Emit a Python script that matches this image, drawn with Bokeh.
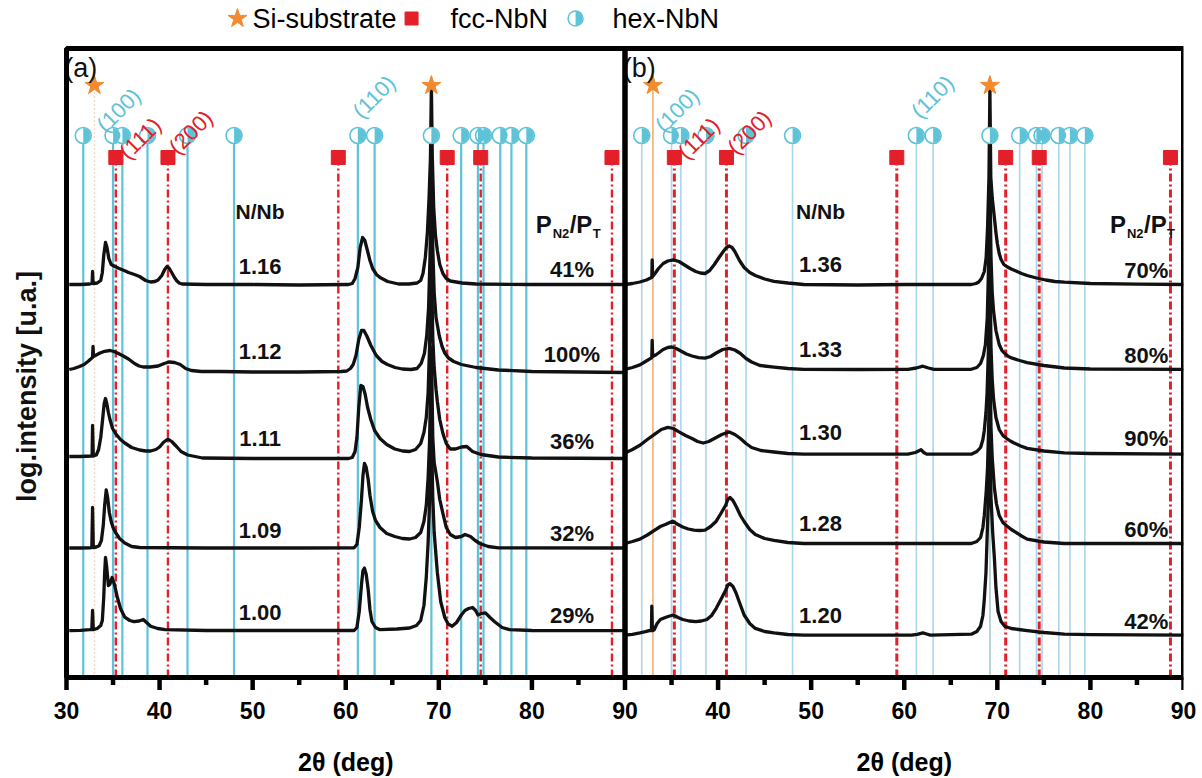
import math
from bokeh.plotting import figure
from bokeh.layouts import column
from bokeh.models import ColumnDataSource, FixedTicker, Range1d
from bokeh.transform import dodge
from bokeh.core.properties import value
from bokeh.embed import file_html
from bokeh.resources import INLINE

# ---------------------------------------------------------------- data
# Panel (a): diffractograms, 2theta (deg) and stacked log intensity (a.u.)
a1_tt = [30.3, 31.5, 32.49, 32.75, 32.80, 32.86, 33.3, 33.68, 33.85, 34.0, 34.19, 34.35, 34.55, 34.8, 35.2,
         35.66, 36.2, 36.66, 37.3, 37.85, 38.5, 39.04, 39.5, 39.84, 40.24, 40.55, 40.8, 41.05, 41.3, 41.6,
         41.82, 42.1, 42.42, 45.0, 50.0, 55.0, 60.3, 60.7, 61.0, 61.3, 61.55, 61.81, 62.05, 62.3, 62.6,
         62.89, 63.3, 63.68, 64.5, 65.67, 66.8, 67.66, 68.05, 68.3, 68.55, 68.77, 68.95, 69.1, 69.2, 69.3,
         69.45, 69.64, 69.84, 70.1, 70.44, 70.8, 71.23, 72.5, 74.0, 80.0, 90.0]
a1_i = [3.93, 3.93, 3.935, 3.94, 4.06, 3.94, 3.945, 3.97, 4.05, 4.22, 4.35, 4.30, 4.19, 4.13, 4.11,
        4.09, 4.07, 4.05, 4.03, 4.01, 3.97, 3.955, 3.96, 3.975, 4.02, 4.08, 4.11, 4.09, 4.05, 4.0,
        3.97, 3.945, 3.935, 3.93, 3.93, 3.925, 3.93, 3.94, 3.99, 4.10, 4.30, 4.40, 4.37, 4.28, 4.17,
        4.09, 4.03, 4.0, 3.96, 3.935, 3.935, 3.945, 3.97, 4.04, 4.2, 4.45, 4.8, 5.2, 5.92, 5.2,
        4.7, 4.42, 4.27, 4.13, 4.04, 3.99, 3.965, 3.945, 3.935, 3.93, 3.93]

a2_tt = [30.3, 30.8, 31.4, 31.89, 32.3, 32.6, 32.80, 32.85, 32.90, 33.2, 33.6, 34.1, 34.67, 35.1, 35.47,
         36.0, 36.66, 37.3, 37.8, 38.25, 39.0, 39.84, 40.5, 41.03, 41.6, 42.22, 42.8, 43.41, 44.5, 46.59,
         50.0, 55.0, 59.5, 60.11, 60.5, 60.8, 61.1, 61.4, 61.69, 61.95, 62.29, 62.7, 63.28, 63.9, 64.48,
         65.3, 66.07, 67.0, 67.66, 68.1, 68.45, 68.7, 68.9, 69.05, 69.2, 69.35, 69.5, 69.7, 70.04, 70.35,
         70.64, 71.03, 71.6, 72.42, 74.0, 76.4, 80.0, 90.0]
a2_i = [3.08, 3.09, 3.11, 3.13, 3.16, 3.185, 3.20, 3.31, 3.21, 3.225, 3.245, 3.262, 3.27, 3.26, 3.245,
        3.22, 3.185, 3.14, 3.115, 3.105, 3.105, 3.115, 3.14, 3.155, 3.15, 3.13, 3.09, 3.07, 3.06, 3.06,
        3.055, 3.055, 3.06, 3.065, 3.09, 3.13, 3.22, 3.38, 3.47, 3.47, 3.41, 3.32, 3.22, 3.16, 3.13,
        3.10, 3.085, 3.08, 3.09, 3.14, 3.24, 3.42, 3.70, 4.2, 5.06, 4.3, 3.85, 3.6, 3.42, 3.31,
        3.245, 3.195, 3.16, 3.13, 3.10, 3.075, 3.06, 3.05]

a3_tt = [30.3, 31.5, 32.68, 32.75, 32.80, 32.88, 33.2, 33.45, 33.68, 33.9, 34.05, 34.19, 34.35, 34.5, 34.67,
         34.95, 35.27, 35.8, 36.26, 37.0, 37.85, 38.5, 39.04, 39.6, 40.0, 40.4, 40.9, 41.3, 41.82, 42.3,
         43.02, 44.61, 50.0, 55.0, 60.3, 60.7, 61.0, 61.2, 61.4, 61.62, 61.85, 62.09, 62.35, 62.69, 63.1,
         63.68, 64.4, 65.27, 66.1, 66.86, 67.5, 68.05, 68.4, 68.65, 68.85, 69.0, 69.2, 69.35, 69.5, 69.7,
         69.84, 70.1, 70.44, 70.8, 71.23, 71.8, 72.42, 73.0, 73.62, 74.5, 76.4, 80.0, 90.0]
a3_i = [2.21, 2.21, 2.215, 2.215, 2.52, 2.215, 2.225, 2.28, 2.40, 2.60, 2.74, 2.79, 2.73, 2.65, 2.58,
        2.49, 2.44, 2.38, 2.345, 2.30, 2.275, 2.265, 2.265, 2.28, 2.305, 2.35, 2.385, 2.36, 2.31, 2.26,
        2.225, 2.195, 2.19, 2.19, 2.19, 2.20, 2.26, 2.40, 2.70, 2.92, 2.91, 2.83, 2.70, 2.58, 2.47,
        2.39, 2.33, 2.285, 2.265, 2.26, 2.28, 2.34, 2.45, 2.60, 2.85, 3.3, 4.19, 3.4, 3.1, 2.88,
        2.76, 2.58, 2.44, 2.34, 2.285, 2.285, 2.305, 2.31, 2.26, 2.23, 2.205, 2.195, 2.19]

a4_tt = [30.3, 31.5, 32.49, 32.72, 32.80, 32.88, 33.2, 33.5, 33.75, 33.95, 34.1, 34.27, 34.42, 34.6, 34.8,
         35.0, 35.27, 35.7, 36.26, 37.0, 37.85, 45.0, 55.0, 60.9, 61.2, 61.45, 61.69, 61.85, 62.01, 62.2,
         62.41, 62.6, 62.89, 63.2, 63.68, 64.4, 65.27, 66.1, 66.86, 67.5, 68.05, 68.4, 68.65, 68.85, 69.0,
         69.2, 69.35, 69.5, 69.84, 70.1, 70.44, 70.8, 71.23, 71.8, 72.42, 72.82, 73.4, 73.9, 74.41, 75.3,
         76.4, 90.0]
a4_i = [1.295, 1.295, 1.297, 1.30, 1.70, 1.30, 1.305, 1.317, 1.37, 1.52, 1.72, 1.875, 1.80, 1.65, 1.56,
        1.50, 1.45, 1.39, 1.345, 1.31, 1.30, 1.295, 1.295, 1.297, 1.33, 1.50, 1.78, 2.02, 2.14, 2.10,
        1.98, 1.82, 1.66, 1.57, 1.50, 1.44, 1.41, 1.39, 1.385, 1.40, 1.45, 1.56, 1.72, 2.0, 2.35,
        3.30, 2.4, 2.15, 1.96, 1.78, 1.64, 1.50, 1.43, 1.40, 1.41, 1.43, 1.41, 1.37, 1.34, 1.31,
        1.297, 1.295]

a5_tt = [30.3, 31.5, 32.49, 32.72, 32.80, 32.88, 33.3, 33.68, 33.85, 34.0, 34.1, 34.19, 34.3, 34.5, 34.65,
         34.9, 35.15, 35.47, 35.8, 36.26, 36.8, 37.25, 37.8, 38.25, 38.6, 39.04, 39.8, 40.6, 45.0, 55.0,
         60.9, 61.2, 61.45, 61.69, 61.85, 62.01, 62.2, 62.41, 62.6, 62.81, 63.2, 63.68, 65.5, 66.86, 67.6,
         68.05, 68.4, 68.65, 68.85, 69.0, 69.2, 69.35, 69.5, 69.84, 70.2, 70.64, 71.0, 71.43, 71.9, 72.42,
         72.8, 73.2, 73.62, 73.95, 74.21, 74.6, 75.01, 75.5, 76.0, 76.8, 77.59, 80.0, 90.0]
a5_i = [0.469, 0.472, 0.478, 0.48, 0.67, 0.478, 0.49, 0.52, 0.57, 0.80, 1.05, 1.20, 1.12, 0.92, 0.93,
        1.00, 0.93, 0.80, 0.69, 0.603, 0.57, 0.558, 0.565, 0.58, 0.55, 0.513, 0.49, 0.478, 0.47, 0.47,
        0.47, 0.50, 0.66, 0.93, 1.07, 1.094, 1.03, 0.88, 0.68, 0.56, 0.50, 0.478, 0.485, 0.495, 0.52,
        0.57, 0.72, 1.0, 1.35, 1.75, 2.47, 1.8, 1.45, 1.05, 0.76, 0.60, 0.535, 0.513, 0.55, 0.625,
        0.67, 0.69, 0.70, 0.67, 0.625, 0.64, 0.647, 0.60, 0.558, 0.50, 0.478, 0.47, 0.469]

# Panel (b)
b1_tt = [30.0, 30.8, 31.6, 32.3, 32.8, 32.88, 32.92, 32.97, 33.3, 33.6, 34.1, 34.6, 35.2, 35.8, 36.4,
         37.0, 37.6, 38.1, 38.6, 39.1, 39.6, 40.1, 40.6, 40.9, 41.2, 41.5, 41.8, 42.3, 42.8, 43.4,
         44.0, 45.0, 46.0, 47.5, 49.2, 55.0, 60.0, 67.2, 67.7, 68.0, 68.3, 68.6, 68.8, 68.95, 69.1,
         69.2, 69.3, 69.45, 69.68, 69.85, 70.0, 70.2, 70.4, 70.7, 71.0, 71.5, 72.0, 72.6, 73.2, 74.2,
         75.2, 76.2, 77.2, 80.0, 85.0, 90.0]
b1_i = [3.93, 3.94, 3.955, 3.975, 3.997, 4.0, 4.176, 4.01, 4.05, 4.09, 4.14, 4.165, 4.176, 4.16, 4.125,
        4.09, 4.06, 4.045, 4.04, 4.07, 4.13, 4.2, 4.265, 4.30, 4.315, 4.30, 4.26, 4.17, 4.10, 4.05,
        4.02, 3.985, 3.962, 3.945, 3.93, 3.925, 3.93, 3.93, 3.94, 3.955, 3.99, 4.06, 4.2, 4.5, 5.0,
        5.88, 5.0, 4.8, 4.6, 4.45, 4.34, 4.24, 4.18, 4.13, 4.11, 4.085, 4.065, 4.04, 4.02, 3.995,
        3.975, 3.96, 3.953, 3.94, 3.933, 3.93]

b2_tt = [30.0, 30.8, 31.6, 32.2, 32.8, 32.88, 32.92, 32.97, 33.3, 33.6, 34.1, 34.6, 35.0, 35.5, 36.0,
         36.6, 37.2, 37.9, 38.6, 39.2, 39.8, 40.5, 41.2, 41.8, 42.4, 43.0, 43.6, 44.5, 46.0, 47.5,
         49.2, 55.0, 60.4, 61.3, 62.0, 62.6, 63.2, 67.2, 67.8, 68.2, 68.5, 68.72, 68.92, 69.08, 69.2,
         69.32, 69.45, 69.6, 69.85, 70.2, 70.5, 70.8, 71.2, 71.6, 72.4, 73.2, 75.0, 77.2, 80.0, 90.0]
b2_i = [3.082, 3.10, 3.126, 3.16, 3.193, 3.20, 3.372, 3.21, 3.225, 3.245, 3.28, 3.30, 3.305, 3.29, 3.265,
        3.235, 3.215, 3.198, 3.193, 3.21, 3.245, 3.28, 3.292, 3.275, 3.24, 3.19, 3.155, 3.12, 3.104, 3.09,
        3.082, 3.08, 3.082, 3.095, 3.113, 3.095, 3.082, 3.082, 3.10, 3.14, 3.22, 3.33, 3.60, 4.2, 5.03,
        4.2, 3.85, 3.66, 3.47, 3.33, 3.27, 3.24, 3.21, 3.193, 3.17, 3.149, 3.12, 3.095, 3.085, 3.082]

b3_tt = [30.0, 30.8, 31.6, 32.4, 33.2, 33.9, 34.6, 35.2, 35.8, 36.5, 37.2, 37.8, 38.4, 39.0, 39.6,
         40.4, 41.2, 41.8, 42.4, 43.0, 43.6, 44.6, 46.0, 47.5, 49.2, 55.0, 60.4, 61.2, 61.8, 62.1,
         62.4, 67.2, 67.8, 68.2, 68.45, 68.6, 68.78, 68.9, 69.05, 69.2, 69.32, 69.45, 69.6, 69.85, 70.2,
         70.6, 71.0, 71.4, 71.8, 72.5, 73.2, 75.0, 77.2, 80.0, 90.0]
b3_i = [2.246, 2.28, 2.322, 2.38, 2.434, 2.48, 2.501, 2.49, 2.456, 2.42, 2.39, 2.36, 2.345, 2.36, 2.39,
        2.43, 2.456, 2.43, 2.39, 2.34, 2.30, 2.27, 2.255, 2.24, 2.233, 2.233, 2.233, 2.25, 2.278, 2.25,
        2.233, 2.233, 2.26, 2.30, 2.38, 2.47, 2.65, 2.85, 3.3, 4.18, 3.3, 2.98, 2.78, 2.6, 2.48,
        2.42, 2.39, 2.365, 2.345, 2.315, 2.291, 2.265, 2.246, 2.24, 2.233]

b4_tt = [30.0, 30.8, 31.6, 32.4, 33.2, 33.8, 34.4, 34.8, 35.12, 35.6, 36.2, 36.8, 37.4, 38.0, 38.6,
         39.2, 39.8, 40.3, 40.8, 41.05, 41.28, 41.6, 42.0, 42.4, 42.8, 43.4, 44.0, 45.0, 46.0, 47.5,
         49.2, 60.0, 67.2, 67.8, 68.2, 68.45, 68.6, 68.8, 68.95, 69.08, 69.2, 69.32, 69.45, 69.68, 69.9,
         70.2, 70.6, 71.0, 71.5, 72.0, 72.6, 73.2, 75.0, 77.2, 90.0]
b4_i = [1.34, 1.36, 1.384, 1.425, 1.474, 1.51, 1.532, 1.55, 1.563, 1.535, 1.505, 1.485, 1.474, 1.47, 1.474,
        1.51, 1.563, 1.64, 1.72, 1.78, 1.80, 1.77, 1.70, 1.62, 1.56, 1.48, 1.43, 1.39, 1.371, 1.35,
        1.34, 1.34, 1.34, 1.36, 1.40, 1.50, 1.62, 1.85, 2.1, 2.55, 3.29, 2.5, 2.2, 1.9, 1.74,
        1.62, 1.55, 1.518, 1.48, 1.452, 1.415, 1.384, 1.355, 1.34, 1.34]

b5_tt = [30.0, 30.8, 31.6, 32.2, 32.6, 32.84, 32.88, 32.94, 33.12, 33.45, 33.8, 34.4, 34.8, 35.2, 35.7,
         36.2, 36.9, 37.6, 38.2, 38.8, 39.3, 39.8, 40.3, 40.8, 41.05, 41.28, 41.6, 41.92, 42.3, 42.8,
         43.4, 44.0, 45.0, 46.0, 47.5, 49.2, 55.0, 60.8, 61.4, 62.0, 62.4, 62.8, 67.2, 67.8, 68.2,
         68.45, 68.6, 68.78, 68.92, 69.08, 69.2, 69.32, 69.5, 69.68, 69.85, 70.08, 70.4, 70.8, 71.5, 72.3,
         73.2, 75.0, 77.2, 80.0, 90.0]
b5_i = [0.424, 0.432, 0.446, 0.458, 0.469, 0.47, 0.714, 0.469, 0.475, 0.54, 0.58, 0.603, 0.615, 0.625, 0.60,
        0.58, 0.565, 0.558, 0.565, 0.58, 0.62, 0.692, 0.78, 0.87, 0.925, 0.938, 0.91, 0.848, 0.75, 0.625,
        0.54, 0.491, 0.46, 0.446, 0.43, 0.424, 0.424, 0.424, 0.432, 0.446, 0.435, 0.424, 0.433, 0.46, 0.513,
        0.62, 0.78, 1.05, 1.452, 1.9, 2.37, 1.8, 1.45, 1.2, 0.9, 0.66, 0.56, 0.513, 0.49, 0.48,
        0.469, 0.45, 0.433, 0.428, 0.424]

n_nb_a = ["1.16", "1.12", "1.11", "1.09", "1.00"]
pn2_a = ["41%", "100%", "36%", "32%", "29%"]
n_nb_b = ["1.36", "1.33", "1.30", "1.28", "1.20"]
pn2_b = ["70%", "80%", "90%", "60%", "42%"]

# Reference reflection positions (2theta, deg)
si_substrate = [33.0, 69.2]
fcc_nbn = [35.3, 40.9, 59.2, 70.9, 74.5, 88.6]
hex_nbn = [31.8, 35.0, 36.0, 38.7, 43.0, 48.0, 61.3, 63.1, 69.2, 72.4, 74.2, 74.8, 76.6, 77.8, 79.4]
hex_hkl = ["(100)", "(110)"]
fcc_hkl = ["(111)", "(200)"]

x_ticks = [30, 40, 50, 60, 70, 80, 90]
legend_names = ["Si-substrate", "fcc-NbN", "hex-NbN"]

# ---------------------------------------------------------------- style
FONT = "Liberation Sans"
BLACK = "#111111"
RED = "#e3202a"
CYAN = "#5fc3d8"
CYAN_LIGHT = "#a9d7ea"
ORANGE = "#f28a2e"
STAR_Y, HEX_Y, FCC_Y = 5.92, 5.42, 5.20
SHIFT_B = 60          # panel (b) sits 60 degrees to the right on the shared x range
X_LEFT = 22.91        # room left of the panels for the intensity title
Y_TOP = 6.77          # room above the panels for the key
Y_BOTTOM = -0.15      # room under the panels for the tick marks
PANEL_TOP = 6.29


def xfield(shift):
    return "x" if shift == 0 else dodge("x", shift)


def put_text(p, shift, xs, ys, texts, size, color=BLACK, style="bold", align="center",
             baseline="middle", angle=0.0, x_offset=0, y_offset=0):
    src = ColumnDataSource(dict(x=xs, y=ys, t=texts))
    p.text(x=xfield(shift), y="y", text="t", source=src, text_font=value(FONT),
           text_font_style=style, text_font_size=size, text_color=color, text_align=align,
           text_baseline=baseline, angle=angle, x_offset=x_offset, y_offset=y_offset)


def hex_marker(p, X, src, size, width):
    p.scatter(x=X, y="y", source=src, marker="circle", size=size, fill_color="white",
              line_color=CYAN, line_width=width)
    p.wedge(x=X, y="y", source=src, radius=size / 2 - 0.6, radius_units="screen",
            start_angle=-math.pi / 2, end_angle=math.pi / 2, fill_color=CYAN, line_color=None)


def draw_panel(p, shift, curves, n_nb, pn2, cyan_line, cyan_w, red_w, si_style, val_x, val_dy,
               pct_x, pct_dy, tag):
    X = xfield(shift)

    # Si substrate guide lines
    if si_style == "dotted":
        si_src = ColumnDataSource(dict(x=si_substrate, top=[STAR_Y] * 2, c=["#f3b98a", "#f3b98a"]))
        p.segment(x0=X, y0=0, x1=X, y1="top", source=si_src, line_color="c",
                  line_width=1.5, line_dash="1 3")
    else:
        si_src = ColumnDataSource(dict(x=si_substrate, top=[STAR_Y] * 2, c=["#f4a461", "#c8b46a"]))
        p.segment(x0=X, y0=0, x1=X, y1="top", source=si_src, line_color="c", line_width=1.4)

    # hexagonal NbN reference lines
    hex_src = ColumnDataSource(dict(x=hex_nbn, top=[HEX_Y] * len(hex_nbn)))
    p.segment(x0=X, y0=0, x1=X, y1="top", source=hex_src, line_color=cyan_line, line_width=cyan_w)

    # fcc NbN reference lines
    fcc_src = ColumnDataSource(dict(x=fcc_nbn, top=[FCC_Y] * len(fcc_nbn)))
    p.segment(x0=X, y0=0, x1=X, y1="top", source=fcc_src, line_color=RED, line_width=red_w,
              line_dash="8 3 2 3")

    # diffractograms
    for tt, inten in curves:
        src = ColumnDataSource(dict(x=tt, y=inten))
        p.line(x=X, y="y", source=src, line_color=BLACK, line_width=3.3, line_join="round")

    # markers
    p.scatter(x=X, y="y", source=ColumnDataSource(dict(x=fcc_nbn, y=[FCC_Y] * len(fcc_nbn))),
              marker="square", size=14, fill_color=RED, line_color=RED)
    hex_marker(p, X, ColumnDataSource(dict(x=hex_nbn, y=[HEX_Y] * len(hex_nbn))), 16, 1.6)
    p.scatter(x=X, y="y", source=ColumnDataSource(dict(x=si_substrate, y=[STAR_Y] * 2)),
              marker="star", size=20, fill_color=ORANGE, line_color=ORANGE)

    # Miller indices
    put_text(p, shift, [hex_nbn[1] - 1.35, hex_nbn[6] - 0.15], [5.49, 5.63], hex_hkl, "22px",
             color=CYAN, style="normal", align="left", angle=math.pi / 4)
    put_text(p, shift, [fcc_nbn[0] + 0.8, fcc_nbn[1] + 0.5], [5.22, 5.27], fcc_hkl, "22px",
             color=RED, style="normal", align="left", angle=math.pi / 4)

    # panel tag
    put_text(p, shift, [29.75], [6.25], [tag], "27px", style="normal", align="left", baseline="top")

    # sample labels
    base = [c[1][0] for c in curves]
    put_text(p, shift, [val_x] * len(base), [b + val_dy for b in base], n_nb, "22px")
    put_text(p, shift, [pct_x] * len(base), [b + pct_dy for b in base], pn2, "22px")
    put_text(p, shift, [val_x], [4.66], ["N/Nb"], "21px")
    # P_N2 / P_T heading built from pieces with subscripts
    hx = pct_x - 3.9
    put_text(p, shift, [hx], [4.53], ["P"], "24px", align="left")
    put_text(p, shift, [hx], [4.53], ["N2"], "13px", align="left", x_offset=17, y_offset=9)
    put_text(p, shift, [hx], [4.53], ["/P"], "24px", align="left", x_offset=34)
    put_text(p, shift, [hx], [4.53], ["T"], "13px", align="left", x_offset=57, y_offset=9)


# ---------------------------------------------------------------- main figure
p = figure(width=1202, height=735, x_range=Range1d(X_LEFT, 150), y_range=Range1d(Y_BOTTOM, Y_TOP),
           output_backend="svg", toolbar_location=None, y_axis_type=None, title=None,
           min_border_left=0, min_border_right=19, min_border_top=0, min_border_bottom=43)
p.grid.visible = False
p.outline_line_color = None
p.background_fill_color = "white"

curves_a = [(a1_tt, a1_i), (a2_tt, a2_i), (a3_tt, a3_i), (a4_tt, a4_i), (a5_tt, a5_i)]
curves_b = [(b1_tt, b1_i), (b2_tt, b2_i), (b3_tt, b3_i), (b4_tt, b4_i), (b5_tt, b5_i)]

draw_panel(p, 0, curves_a, n_nb_a, pn2_a, CYAN, 2.2, 2.4, "dotted", 50.8, 0.18, 84.3, 0.15, "(a)")
draw_panel(p, SHIFT_B, curves_b, n_nb_b, pn2_b, CYAN_LIGHT, 1.6, 3.0, "solid", 51.0, 0.2, 86.0, 0.14, "(b)")

# panel frames, spanning each panel's 2theta range
frame_src = ColumnDataSource(dict(left=[x_ticks[0], x_ticks[-1]],
                                  right=[x_ticks[-1], x_ticks[-1] + SHIFT_B]))
p.quad(left="left", right="right", bottom=0, top=PANEL_TOP, source=frame_src,
       fill_color=None, line_color="black", line_width=5)

# 2theta axis: labels from the axis, tick marks hanging under the panel frame
all_ticks = x_ticks + [t + SHIFT_B for t in x_ticks[1:]]
minor_ticks = [t + 5 for t in all_ticks[:-1]]
tick_src = ColumnDataSource(dict(x=all_ticks + minor_ticks,
                                 y1=[-0.125] * len(all_ticks) + [-0.075] * len(minor_ticks)))
p.segment(x0="x", y0=0, x1="x", y1="y1", source=tick_src, line_color="#000000", line_width=4.5)

ax = p.xaxis[0]
ax.ticker = FixedTicker(ticks=all_ticks)
ax.major_label_overrides = {t: str(t if t <= 90 else t - SHIFT_B) for t in all_ticks}
ax.axis_line_color = None
ax.major_tick_line_color = None
ax.minor_tick_line_color = None
ax.major_tick_in = 0
ax.major_tick_out = 0
ax.minor_tick_in = 0
ax.minor_tick_out = 0
ax.major_label_standoff = 9
ax.major_label_text_font = FONT
ax.major_label_text_font_style = "bold"
ax.major_label_text_font_size = "23px"
ax.major_label_text_color = "black"

# intensity title, left of panel (a)
p.text(x=[X_LEFT + 2.9], y=[2.91], text=["log.intensity [u.a.]"], angle=math.pi / 2,
       text_font=value(FONT), text_font_style="bold", text_font_size="27px",
       text_align="center", text_baseline="middle", text_color=BLACK)

# key above the panels
key_y = 6.59
p.scatter(x=[48.37], y=[key_y], marker="star", size=20, fill_color=ORANGE, line_color=ORANGE)
p.scatter(x=[67.07], y=[key_y], marker="square", size=13, fill_color=RED, line_color=RED)
hex_marker(p, "x", ColumnDataSource(dict(x=[84.69], y=[key_y])), 15, 1.5)
p.text(x=[49.98, 71.26, 88.66], y=[key_y] * 3, text=legend_names, text_font=value(FONT),
       text_font_size="27px", text_baseline="middle", text_align="left", text_color="black")

# ---------------------------------------------------------------- axis titles strip
f = figure(width=1202, height=43, x_range=p.x_range, y_range=Range1d(0, 43),
           output_backend="svg", toolbar_location=None, x_axis_type=None, y_axis_type=None,
           title=None, min_border_left=0, min_border_right=19, min_border_top=0,
           min_border_bottom=0, outline_line_color=None)
f.grid.visible = False
f.text(x=[30 + 30, 90 + 30], y=[17, 17], text=["2θ (deg)", "2θ (deg)"], text_font=value(FONT),
       text_font_style="bold", text_font_size="25px", text_align="center", text_baseline="middle",
       text_color="black")

layout = column(p, f, spacing=0)
open("out.html", "w").write(file_html(layout, INLINE))
